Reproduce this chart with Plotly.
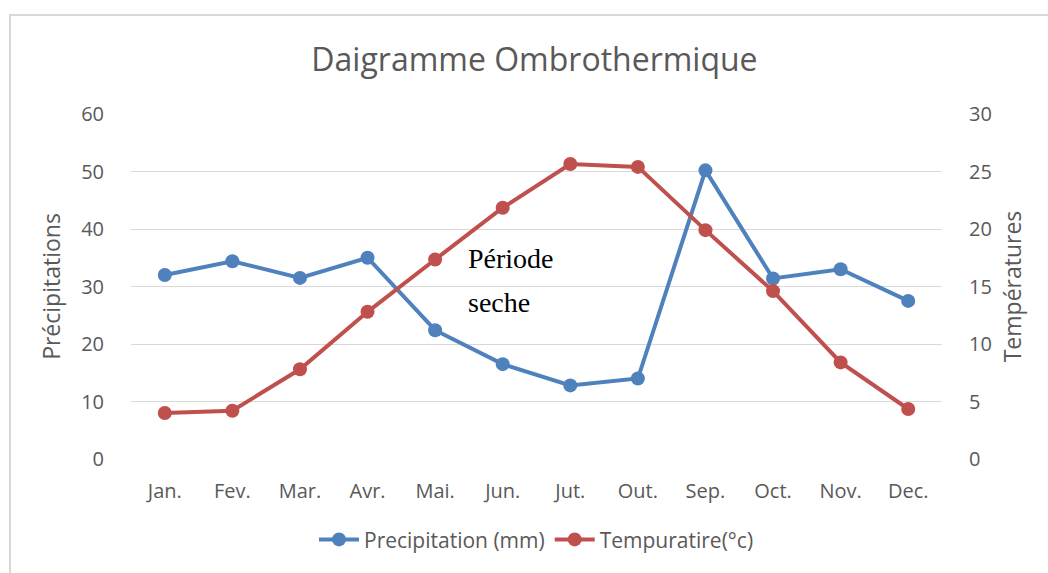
import plotly.graph_objects as go

months = ["Jan.", "Fev.", "Mar.", "Avr.", "Mai.", "Jun.", "Jut.", "Out.", "Sep.", "Oct.", "Nov.", "Dec."]
precipitation = [32.0, 34.4, 31.5, 35.0, 22.4, 16.5, 12.8, 14.0, 50.2, 31.4, 33.0, 27.5]
temperature = [4.0, 4.2, 7.8, 12.8, 17.35, 21.85, 25.65, 25.4, 19.9, 14.6, 8.4, 4.35]

BLUE = "#4F81BD"
RED = "#C0504D"
GRAY = "#595959"
FONT = "Open Sans"

fig = go.Figure()
fig.add_trace(go.Scatter(
    x=months, y=precipitation, name="Precipitation (mm)", mode="lines+markers",
    line=dict(color=BLUE, width=4), marker=dict(size=14, color=BLUE), yaxis="y"))
fig.add_trace(go.Scatter(
    x=months, y=temperature, name="Tempuratire(°c)", mode="lines+markers",
    line=dict(color=RED, width=4), marker=dict(size=14, color=RED), yaxis="y2"))

fig.update_layout(
    width=1048, height=573,
    margin=dict(l=131, r=106, t=114, b=114),
    paper_bgcolor="white", plot_bgcolor="white",
    font=dict(family=FONT, color=GRAY, size=20),
    title=dict(text="Daigramme Ombrothermique", x=0.51, xanchor="center", y=0.895, yanchor="middle",
               font=dict(size=32, color=GRAY, family=FONT)),
    xaxis=dict(range=[-0.5, len(months) - 0.5], showgrid=False, showline=False, zeroline=False,
               ticks="outside", ticklen=14,
               tickcolor="rgba(0,0,0,0)", tickfont=dict(size=20, color=GRAY), automargin=False),
    yaxis=dict(range=[0, 60], dtick=10, showgrid=True, gridcolor="#D9D9D9", gridwidth=1.3,
               zeroline=False, showline=False, ticks="outside", ticklen=22, tickcolor="rgba(0,0,0,0)",
               tickfont=dict(size=20, color=GRAY), automargin=False,
               title=dict(text="Précipitations", font=dict(size=23, color=GRAY), standoff=14)),
    yaxis2=dict(range=[0, 30], dtick=5, overlaying="y", side="right", showgrid=False,
                zeroline=False, showline=False, ticks="outside", ticklen=22, tickcolor="rgba(0,0,0,0)",
                tickfont=dict(size=20, color=GRAY), automargin=False,
                title=dict(text="Températures", font=dict(size=23, color=GRAY), standoff=14)),
    legend=dict(orientation="h", x=0.5, xanchor="center", y=-0.234, yanchor="middle",
                font=dict(size=21, color=GRAY), itemwidth=40, tracegroupgap=0),
    showlegend=True,
)

fig.add_annotation(text="Période", xref="paper", yref="paper", x=(466 - 131) / 811, y=(459 - 258) / 345,
                   xanchor="left", yanchor="middle", showarrow=False,
                   font=dict(family="Liberation Serif", size=28, color="black"))
fig.add_annotation(text="seche", xref="paper", yref="paper", x=(466 - 131) / 811, y=(459 - 302) / 345,
                   xanchor="left", yanchor="middle", showarrow=False,
                   font=dict(family="Liberation Serif", size=28, color="black"))

fig.add_shape(type="rect", xref="paper", yref="paper",
              x0=(10 - 131) / 811, x1=1.3, y0=-0.6, y1=(459 - 15) / 345,
              line=dict(color="#D9D9D9", width=2), fillcolor="rgba(0,0,0,0)", layer="below")

fig.write_html("out.html", config={"displayModeBar": False},
               post_script="document.body.style.margin='0';")
